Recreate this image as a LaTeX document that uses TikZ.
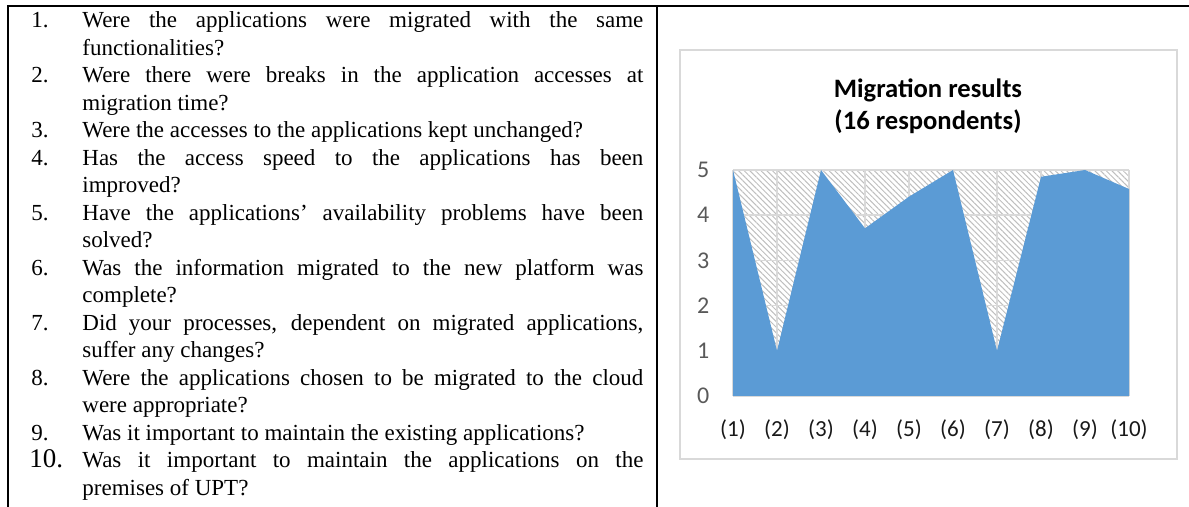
\documentclass[tikz,border=0pt]{standalone}
\usepackage{fontspec}
\setmainfont{Liberation Serif}
\newfontfamily\chartfont{Carlito}
\usetikzlibrary{patterns.meta}

\definecolor{areablue}{HTML}{5B9BD5}
\definecolor{gridgray}{HTML}{D9D9D9}
\definecolor{ticklabel}{HTML}{595959}
\newcommand{\qfont}{\fontsize{11.5}{13.75}\selectfont\pretolerance=10000\tolerance=10000\hbadness=10000}

\tikzset{
  tableline/.style={line width=1pt},
  qnum/.style={anchor=base west, inner sep=0pt, font=\qfont},
  qtext/.style={anchor=base west, inner sep=0pt, text width=280.5pt, align=justify, font=\qfont},
  gridline/.style={draw=gridgray, line width=0.75pt},
  ticky/.style={font=\chartfont\fontsize{12}{14}\selectfont, text=ticklabel},
  tickx/.style={font=\chartfont\fontsize{11.5}{14}\selectfont, text=black!90},
}

\begin{document}
\begin{tikzpicture}[x=0.5pt,y=-0.5pt]
\useasboundingbox (0,0) rectangle (1189,507);

% table rules
\draw[tableline] (7.5,507) -- (7.5,6) -- (1189,6);
\draw[tableline] (656.5,6) -- (656.5,507);

% questions
\node[qnum] (n1) at (31,28) {1.};
\node[qtext] (q1) at (82,28) {Were the applications were migrated with the same\linebreak functionalities?};
\node[qnum] (n2) at (31,83) {2.};
\node[qtext] (q2) at (82,83) {Were there were breaks in the application accesses at\linebreak migration time?};
\node[qnum] (n3) at (31,138) {3.};
\node[qtext] (q3) at (82,138) {Were the accesses to the applications kept unchanged?};
\node[qnum] (n4) at (31,165.5) {4.};
\node[qtext] (q4) at (82,165.5) {Has the access speed to the applications has been\linebreak improved?};
\node[qnum] (n5) at (31,220.5) {5.};
\node[qtext] (q5) at (82,220.5) {Have the applications’ availability problems have been\linebreak solved?};
\node[qnum] (n6) at (31,275.5) {6.};
\node[qtext] (q6) at (82,275.5) {Was the information migrated to the new platform was\linebreak complete?};
\node[qnum] (n7) at (31,330.5) {7.};
\node[qtext] (q7) at (82,330.5) {Did your processes, dependent on migrated applications,\linebreak suffer any changes?};
\node[qnum] (n8) at (31,385.5) {8.};
\node[qtext] (q8) at (82,385.5) {Were the applications chosen to be migrated to the cloud\linebreak were appropriate?};
\node[qnum] (n9) at (31,440.5) {9.};
\node[qtext] (q9) at (82,440.5) {Was it important to maintain the existing applications?};
\node[qnum, font=\fontsize{13.5}{16}\selectfont] (n10) at (29,468) {10.};
\node[qtext] (q10) at (82,468) {Was it important to maintain the applications on the\linebreak premises of UPT?};

% chart
\draw[draw=gridgray, line width=0.75pt] (680,50) rectangle (1177,459);
\node[font=\chartfont\bfseries\fontsize{13.3}{16}\selectfont, align=center] (title) at (928,106) {Migration results\\(16 respondents)};

\begin{scope}[shift={(733,396)}, x=22pt, y=22.6pt]
  \fill[pattern={Lines[angle=-45,distance=2pt,line width=0.5pt]}, pattern color=black!25] (0,0) rectangle (9,5);
  \foreach \v in {0,...,5}
    \draw[gridline] (0,\v) -- (9,\v);
  \foreach \i in {0,...,9}
    \draw[gridline] (\i,0) -- (\i,5);
  \fill[areablue] (0,0) -- (0,5) -- (1,1) -- (2,5) -- (3,3.71) -- (4,4.41) -- (5,5)
    -- (6,1) -- (7,4.85) -- (8,5) -- (9,4.58) -- (9,0) -- cycle;
  \foreach \v in {0,...,5}
    \node[ticky] (yl\v) at (-0.68,\v) {\v};
  \foreach \i in {1,...,10}
    \node[tickx] (xl\i) at (\i-1,-0.75) {(\i)};
\end{scope}
\end{tikzpicture}
\end{document}
